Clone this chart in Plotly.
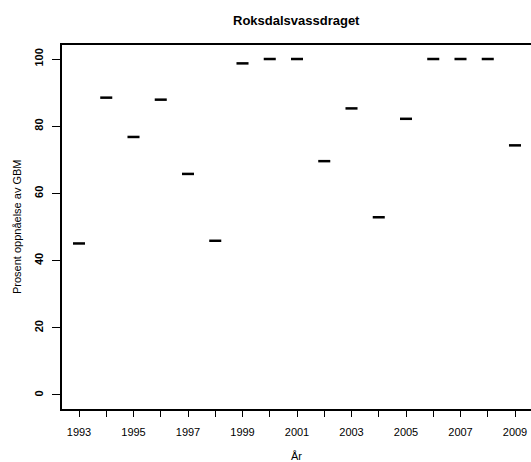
import plotly.graph_objects as go

years = [1993, 1994, 1995, 1996, 1997, 1998, 1999, 2000, 2001, 2002, 2003,
         2004, 2005, 2006, 2007, 2008, 2009]
values = [45.1, 88.5, 76.8, 87.9, 65.8, 45.9, 98.7, 100, 100, 69.6, 85.3,
          52.9, 82.2, 100, 100, 100, 74.3]
tick_labels = [str(y) if y % 2 == 1 else "" for y in years]
y_ticks = [0, 20, 40, 60, 80, 100]

title = "Roksdalsvassdraget"
x_title = "År"
y_title = "Prosent oppnåelse av GBM"

FONT = "Liberation Sans, Arial, Helvetica, sans-serif"

fig = go.Figure()
fig.add_trace(go.Scatter(
    x=years, y=values, mode="markers",
    marker=dict(symbol="line-ew", size=8.6, color="black",
                line=dict(color="black", width=2.5)),
    showlegend=False, hoverinfo="x+y",
))

fig.update_layout(
    width=531, height=462,
    margin=dict(l=62, r=0, t=45, b=53, pad=0),
    paper_bgcolor="white", plot_bgcolor="white",
    font=dict(family=FONT, color="black", size=11),
    xaxis=dict(
        range=[1992.376, 2009.587],
        tickvals=years, ticktext=tick_labels,
        ticks="outside", ticklen=6, tickwidth=1, tickcolor="black",
        showline=True, linewidth=2, linecolor="black", mirror=True,
        showgrid=False, zeroline=False,
        tickfont=dict(size=11, family=FONT, color="black"),
        ticklabelstandoff=6,
    ),
    yaxis=dict(
        range=[-4.17, 104.17],
        tickvals=y_ticks,
        ticks="outside", ticklen=8, tickwidth=1, tickcolor="black",
        showline=True, linewidth=2, linecolor="black", mirror=False,
        showgrid=False, zeroline=False,
        tickangle=-90,
        tickfont=dict(size=11, family=FONT, color="black", weight="bold"),
        ticklabelstandoff=5,
    ),
    annotations=[
        dict(text="<b>" + title + "</b>", xref="paper", yref="paper",
             x=0.5, y=1, yshift=25, xanchor="center", yanchor="middle",
             showarrow=False, font=dict(size=13, family=FONT, color="black")),
        dict(text=y_title, xref="paper", yref="paper",
             x=0, y=0.5, xshift=-45, xanchor="center", yanchor="middle",
             textangle=-90, showarrow=False,
             font=dict(size=11, family=FONT, color="black")),
        dict(text=x_title, xref="paper", yref="paper",
             x=0.5, y=0, yshift=-47, xanchor="center", yanchor="middle",
             showarrow=False, font=dict(size=11, family=FONT, color="black")),
    ],
)

fig.write_html(
    "out.html",
    config={"displayModeBar": False},
    post_script="document.body.style.margin='0';document.body.style.padding='0';",
)
